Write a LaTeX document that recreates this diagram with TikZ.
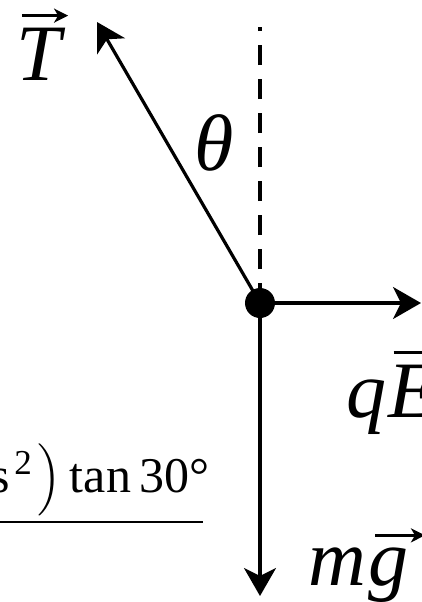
\documentclass[tikz,border=0pt]{standalone}
\usepackage{fontspec}
\setmainfont{Liberation Serif}
\usetikzlibrary{arrows.meta}

\begin{document}
\begin{tikzpicture}[x=0.25pt,y=-0.25pt,
  force/.style={-{Stealth[length=7pt,width=8pt,inset=2pt]},line width=0.8pt},
  vecarr/.style={-{Stealth[length=3.5pt,width=3.5pt,inset=1pt]},line width=0.7pt},
  lab/.style={font=\fontsize{20}{24}\selectfont\itshape,inner sep=0pt}]
\useasboundingbox (0,0) rectangle (421,602);
% charged ball and the vertical
\node[circle,fill,inner sep=0pt,minimum size=7.5pt] (ball) at (260,303) {};
\coordinate (vert) at (260,27);
\draw[line width=0.8pt,dash pattern=on 5pt off 3.5pt] (ball.center) -- (vert);
% forces on the ball
\coordinate (Ttip) at (97,22);
\coordinate (Etip) at (421,303);
\coordinate (gtip) at (260,596);
\draw[force] (ball.center) -- (Ttip);
\draw[force] (ball.center) -- (Etip);
\draw[force] (ball.center) -- (gtip);
\node[lab,anchor=base west] (Tlab) at (16,80) {T};
\node[lab] (theta) at (214,143) {θ};
\node[lab,anchor=base west] (qlab) at (346,417) {q};
\node[lab,anchor=base west] (Elab) at (qlab.base east) {E};
\node[lab,anchor=base west] (mlab) at (308,585) {m};
\node[lab,anchor=base west] (glab) at (mlab.base east) {g};
% arrows over the vectors
\draw[vecarr] ([xshift=1.5pt,yshift=2.8pt]Tlab.north west) -- ([xshift=1.5pt,yshift=2.8pt]Tlab.north east);
\draw[vecarr] ([xshift=1.5pt,yshift=2.8pt]Elab.north west) -- ([xshift=1.5pt,yshift=2.8pt]Elab.north east);
\draw[vecarr] ([xshift=2pt,yshift=2.8pt]glab.north west) -- ([xshift=4pt,yshift=2.8pt]glab.north east);
% piece of the neighbouring formula
\node[anchor=base west,inner sep=0pt,font=\fontsize{12.5}{15}\selectfont] (frm) at (-10,492) {s\kern1pt\textsuperscript{2}\kern1pt$\Big)$\,tan\,30°};
\draw[line width=0.6pt] (-2,522) -- (203,522);
\end{tikzpicture}
\end{document}
